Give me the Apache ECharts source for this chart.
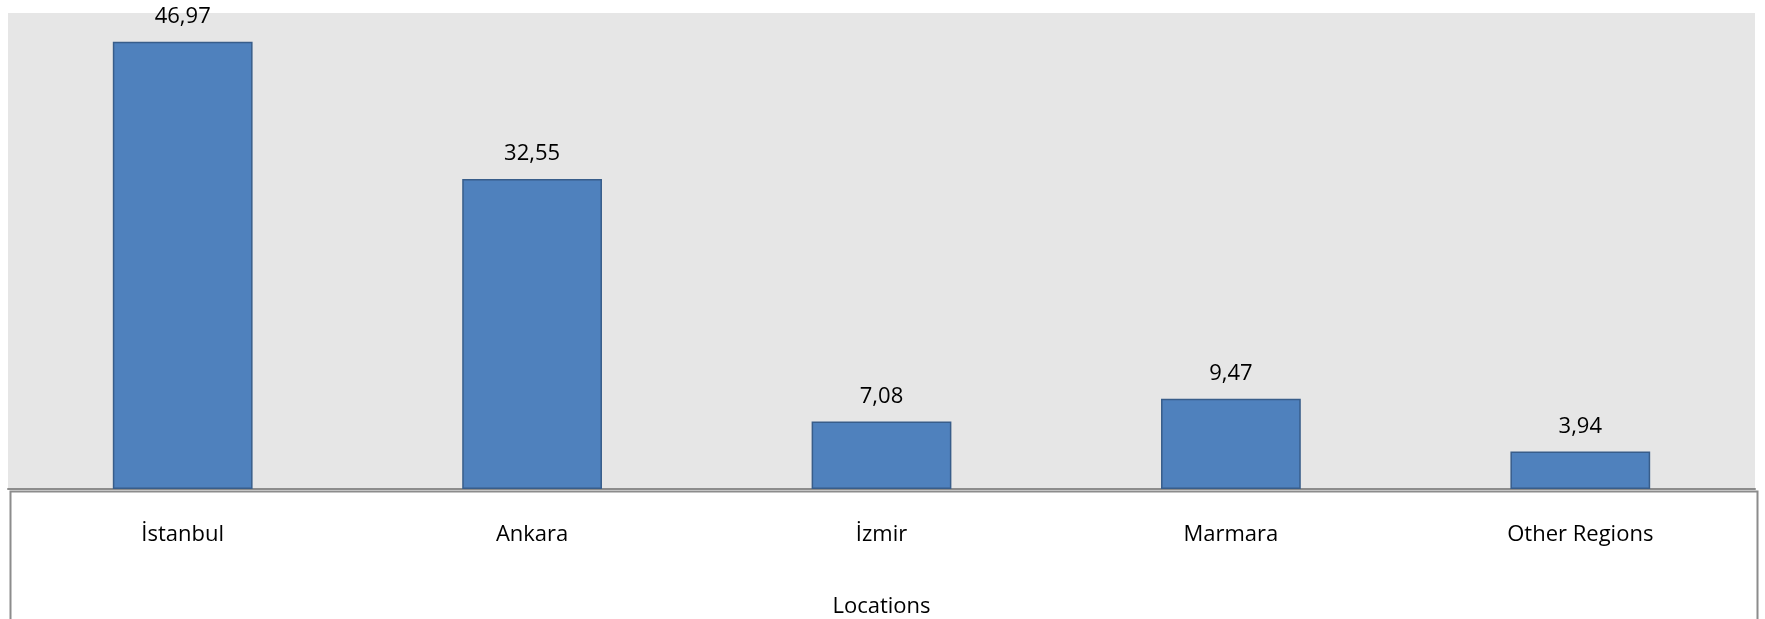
<!DOCTYPE html>
<html>
<head>
<meta charset="utf-8">
<script src="https://cdn.jsdelivr.net/npm/echarts@6/dist/echarts.min.js"></script>
<style>
html,body{margin:0;padding:0;background:#fff;}
#c{width:1765px;height:619px;}
</style>
</head>
<body>
<div id="c"></div>
<script>
var categories = ['İstanbul', 'Ankara', 'İzmir', 'Marmara', 'Other Regions'];
var values = [46.97, 32.55, 7.08, 9.47, 3.94];
var axisName = 'Locations';

var chart = echarts.init(document.getElementById('c'), null, {renderer: 'canvas'});
var font = '"Open Sans", "DejaVu Sans", sans-serif';
chart.setOption({
  animation: false,
  backgroundColor: '#ffffff',
  grid: {
    left: 8, right: 10, top: 13, bottom: 130,
    outerBoundsMode: 'none', containLabel: false,
    show: true, backgroundColor: '#e6e6e6', borderWidth: 0
  },
  graphic: [{
    type: 'rect',
    left: 8, top: 489,
    shape: {width: 1747, height: 160},
    style: {fill: 'none', stroke: '#8c8c8c', lineWidth: 2},
    z: 10
  }],
  xAxis: {
    type: 'category',
    data: categories,
    axisLine: {show: true, lineStyle: {color: '#8c8c8c', width: 2}},
    axisTick: {show: false},
    axisLabel: {color: '#000', fontSize: 22, fontFamily: font, margin: 35},
    name: axisName,
    nameLocation: 'middle',
    nameGap: 107,
    nameTextStyle: {color: '#000', fontSize: 22, fontFamily: font}
  },
  yAxis: {
    type: 'value', min: 0, max: 50, show: false,
    splitLine: {show: false}
  },
  series: [{
    type: 'bar',
    data: values,
    barWidth: '40%',
    itemStyle: {color: '#4f81bd', borderColor: '#385d8a', borderWidth: 1.5},
    label: {
      show: true, position: 'top', distance: 14,
      color: '#000', fontSize: 22, fontFamily: font,
      formatter: function (p) { return p.value.toFixed(2).replace('.', ','); }
    }
  }]
});
</script>
</body>
</html>
